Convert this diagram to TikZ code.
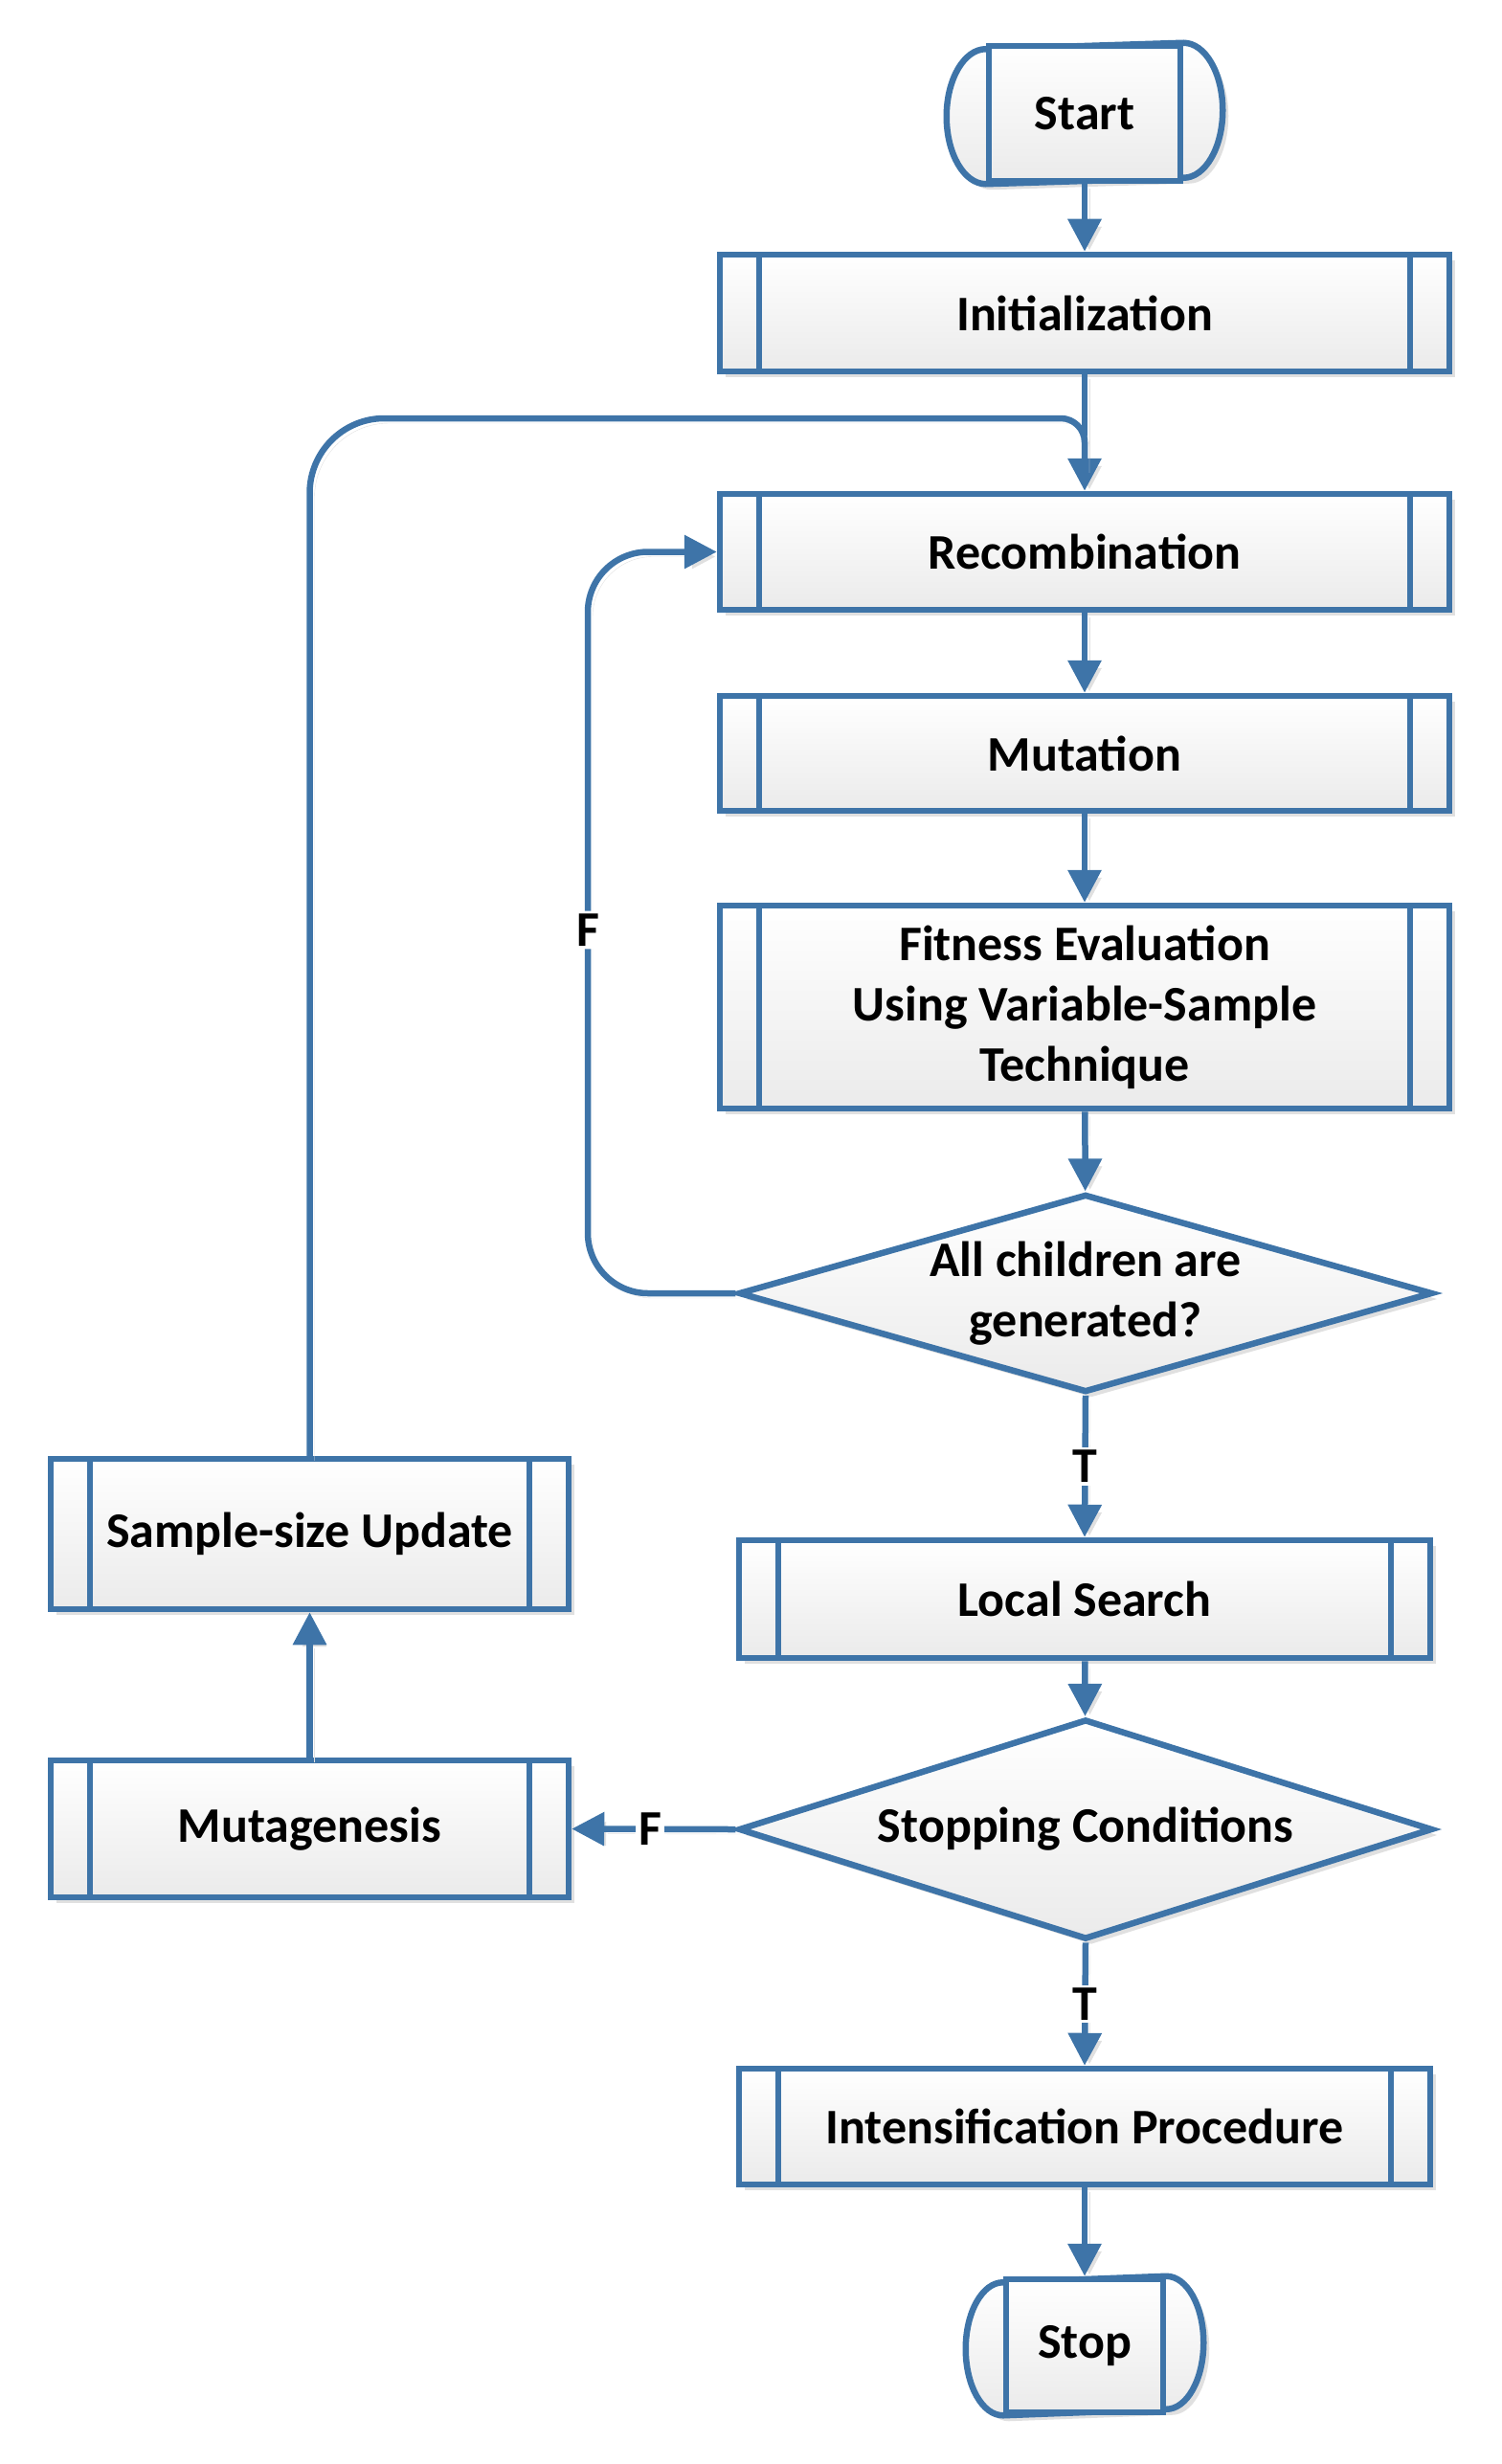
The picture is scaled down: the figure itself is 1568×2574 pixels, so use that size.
\documentclass[tikz,border=0pt]{standalone}
\usepackage{fontspec}
\setmainfont{Carlito}
\usetikzlibrary{shapes.geometric,arrows.meta,shadows,backgrounds}
\definecolor{vblue}{RGB}{62,116,168}
\definecolor{vshadow}{RGB}{224,224,224}
\tikzset{
  fnt/.style={font=\fontsize{52}{63}\selectfont\bfseries},
  base/.style={draw=vblue, line width=6.5pt, top color=white, bottom color=black!8,
    fnt, text=black, inner sep=0pt, align=center,
    drop shadow={shadow xshift=6pt, shadow yshift=-6pt, fill=vshadow, opacity=1}},
  proc/.style={base, rectangle,
    path picture={\draw[vblue, line width=6.5pt]
      ([xshift=41pt]path picture bounding box.north west) -- ([xshift=41pt]path picture bounding box.south west)
      ([xshift=-41pt]path picture bounding box.north east) -- ([xshift=-41pt]path picture bounding box.south east);}},
  term/.style={draw=vblue, line width=6.5pt, top color=white, bottom color=black!8, fnt, text=black, inner sep=0pt, rectangle},
  termcap/.style={draw=vblue, line width=6.5pt, top color=white, bottom color=black!8,
    drop shadow={shadow xshift=6pt, shadow yshift=-6pt, fill=vshadow, opacity=1}},
  dec/.style={base, diamond},
  conn/.style={draw=vblue, line width=6.5pt,
    preaction={draw=vshadow, transform canvas={shift={(5pt,-5pt)}}}},
  arr/.style={conn, -{Triangle[length=34pt,width=34pt]}},
  lab/.style={fnt, fill=white, inner sep=3pt, text=black}
}
\begin{document}
\begin{tikzpicture}[x=1pt,y=-1pt]
\useasboundingbox (0,0) rectangle (1568,2574);

% nodes
\node[term, minimum width=200, minimum height=141] (start) at (1133,118.5) {Start};
\node[proc, minimum width=762, minimum height=122] (init) at (1133,327) {Initialization};
\node[proc, minimum width=762, minimum height=121] (recomb) at (1133,576.5) {Recombination};
\node[proc, minimum width=762, minimum height=120] (mut) at (1133,787) {Mutation};
\node[proc, minimum width=762, minimum height=212] (fit) at (1133,1052) {Fitness Evaluation\\Using Variable-Sample\\Technique};
\node[dec, aspect=3.5, minimum width=725, minimum height=207] (dia1) at (1134,1351) {All children are\\generated?};
\node[proc, minimum width=722, minimum height=123] (ls) at (1133,1670.5) {Local Search};
\node[dec, aspect=3.15, minimum width=725, minimum height=230] (dia2) at (1134,1911) {Stopping Conditions};
\node[proc, minimum width=722, minimum height=121] (intens) at (1133,2221.5) {Intensification Procedure};
\node[term, minimum width=164, minimum height=139] (stop) at (1133,2450.5) {Stop};
\node[proc, minimum width=541, minimum height=157] (ssu) at (323.5,1602.5) {Sample-size Update};
\node[proc, minimum width=541, minimum height=143] (mutag) at (323.5,1910.5) {Mutagenesis};

% terminal caps
\begin{scope}[on background layer]
\draw[termcap] (start.north east) arc[start angle=-90,end angle=90,x radius=41,y radius=70.5]
  -- (start.south west) arc[start angle=90,end angle=270,x radius=41,y radius=70.5] -- cycle;
\draw[termcap] (stop.north east) arc[start angle=-90,end angle=90,x radius=39,y radius=69.5]
  -- (stop.south west) arc[start angle=90,end angle=270,x radius=39,y radius=69.5] -- cycle;
\end{scope}

% helper coordinates
\coordinate (ltop) at (0,437);
\coordinate (fcol) at (614,0);

% connectors
\draw[arr] (start) -- (init);
\draw[arr] (init) -- (recomb);
\draw[conn, shorten >=24pt] (ssu.north) [rounded corners=78pt] -- (ssu.north |- ltop) [rounded corners=25pt] -- (recomb.north |- ltop) [sharp corners] -- (recomb.north);
\draw[arr] (recomb) -- (mut);
\draw[arr] (mut) -- (fit);
\draw[arr] (fit) -- (dia1);
\draw[arr, rounded corners=63pt] (dia1.west) -- (dia1.west -| fcol) -- node[lab, pos=0.49] {F} (fcol |- recomb.west) -- (recomb.west);
\draw[arr] (dia1.south) -- node[lab] {T} (ls.north);
\draw[arr] (ls) -- (dia2);
\draw[arr] (dia2.west) -- node[lab, pos=0.52] {F} (mutag.east);
\draw[arr] (mutag) -- (ssu);
\draw[arr] (dia2.south) -- node[lab] {T} (intens.north);
\draw[arr] (intens) -- (stop);
\end{tikzpicture}
\end{document}
